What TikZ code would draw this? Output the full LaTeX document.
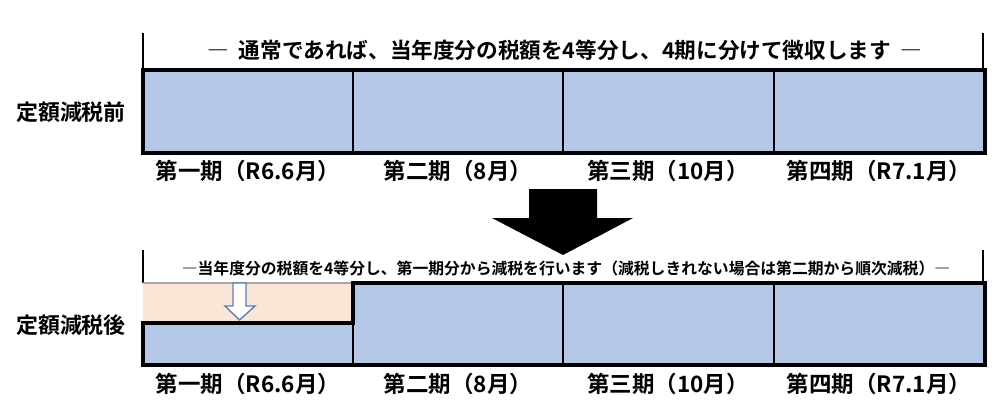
\documentclass[tikz,border=0pt]{standalone}
\usepackage{fontspec}
\setmainfont{Noto Sans CJK JP}[BoldFont={* Bold}]
\usetikzlibrary{positioning}

\definecolor{termblue}{HTML}{B4C7E7}
\definecolor{cutpeach}{HTML}{FBE5D6}
\definecolor{hollowedge}{HTML}{5B7FB5}

\begin{document}
\begin{tikzpicture}[x=0.02cm, y=-0.02cm,
  heavy/.style={line width=2.3pt, line join=miter},
  divider/.style={line width=0.8pt},
  guide/.style={line width=0.6pt},
  rowname/.style={font=\bfseries\fontsize{12.5}{14}\selectfont},
  termname/.style={font=\bfseries\fontsize{12.8}{14}\selectfont},
  headline/.style={font=\bfseries\fontsize{12.3}{14}\selectfont},
  subline/.style={font=\bfseries\fontsize{9}{10}\selectfont}]
\useasboundingbox (0,0) rectangle (1000,407);

% before
\draw[guide] (143,33) -- (143,70) (983,33) -- (983,70);
\node[headline] (title) at (565,50) {―\ \ 通常であれば、当年度分の税額を4等分し、4期に分けて徴収します\ \ ―};
\node[rowname] (before) at (71,112) {定額減税前};
\fill[termblue] (143,70) rectangle (985,153);
\foreach \x in {353,563,774}
  \draw[divider] (\x,70) -- (\x,153);
\draw[heavy] (143,70) rectangle (985,153);
\foreach \x/\t [count=\i] in {248/第一期（R6.6月）, 458/第二期（8月）, 668/第三期（10月）, 879/第四期（R7.1月）}
  \node[termname] (b\i) at (\x,171) {\t};

% big arrow
\fill (529,189) -- (597,189) -- (597,218) -- (633,218) -- (563,255)
  -- (492,218) -- (529,218) -- cycle;

% after
\draw[guide] (143,250) -- (143,283) (983,250) -- (983,283);
\node[subline] (note) at (566,268) {―当年度分の税額を4等分し、第一期分から減税を行います（減税しきれない場合は第二期から順次減税）―};
\node[rowname] (after) at (71,325) {定額減税後};
\fill[cutpeach] (143,283) rectangle (353,323);
\draw[gray!70, line width=0.6pt] (143,283) -- (353,283);
\fill[termblue] (143,323) rectangle (353,365) (353,283) rectangle (985,365);
\foreach \x in {353,563,774}
  \draw[divider] (\x,283) -- (\x,365);
\draw[heavy] (143,365) -- (143,323) -- (353,323) -- (353,283) -- (985,283)
  -- (985,365) -- cycle;
\draw[hollowedge, fill=white, line width=0.8pt] (233,283) -- (246,283) -- (246,306)
  -- (255,306) -- (239.5,320) -- (225,306) -- (233,306) -- cycle;
\foreach \x/\t [count=\i] in {248/第一期（R6.6月）, 458/第二期（8月）, 668/第三期（10月）, 879/第四期（R7.1月）}
  \node[termname] (a\i) at (\x,384) {\t};
\end{tikzpicture}
\end{document}
